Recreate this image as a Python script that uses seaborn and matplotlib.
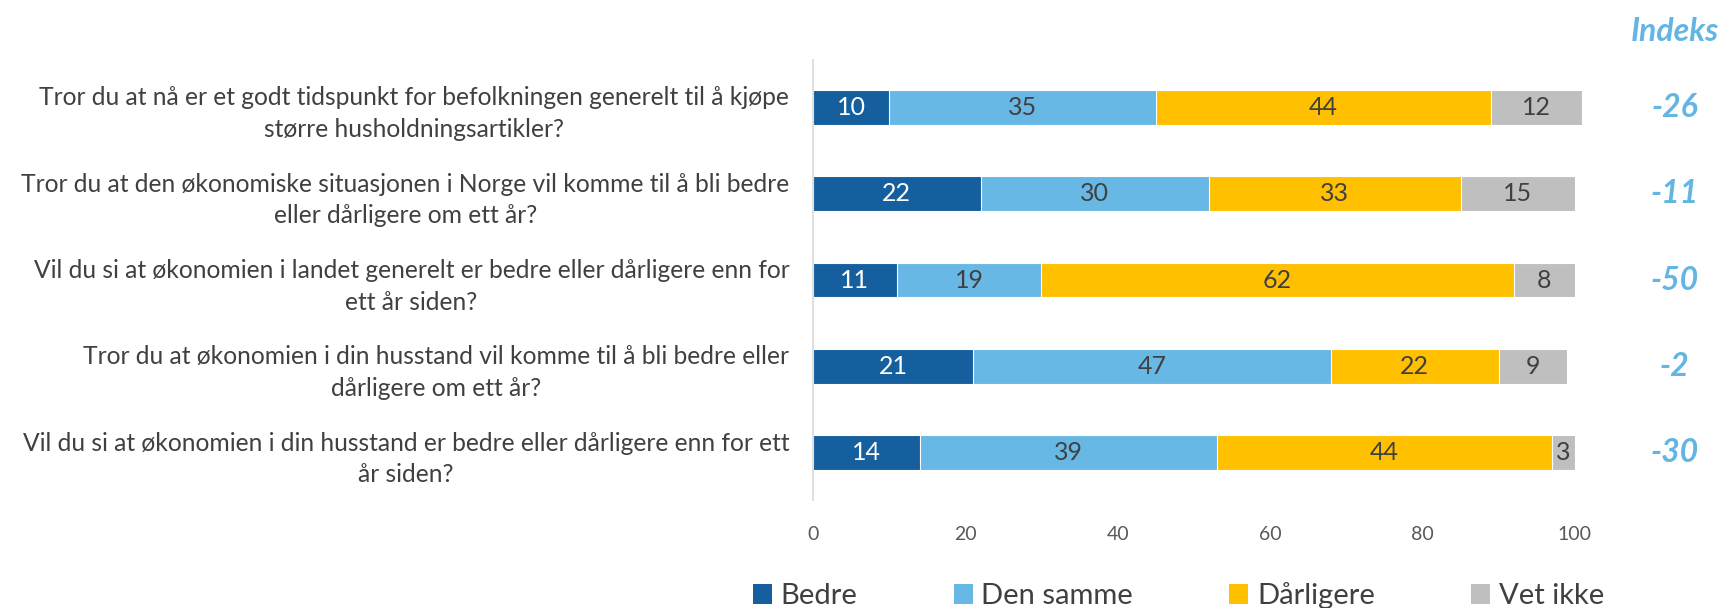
import matplotlib
matplotlib.use('Agg')
import matplotlib.pyplot as plt
import matplotlib.transforms as mtransforms
from matplotlib.patches import Patch
import numpy as np
import pandas as pd
import seaborn as sns

sns.set_style('white')
plt.rcParams['font.family'] = ['Lato', 'DejaVu Sans']

# questions, top to bottom
questions = [
    'Tror du at nå er et godt tidspunkt for befolkningen generelt til å kjøpe\nstørre husholdningsartikler?',
    'Tror du at den økonomiske situasjonen i Norge vil komme til å bli bedre\neller dårligere om ett år?',
    'Vil du si at økonomien i landet generelt er bedre eller dårligere enn for\nett år siden?',
    'Tror du at økonomien i din husstand vil komme til å bli bedre eller\ndårligere om ett år?',
    'Vil du si at økonomien i din husstand er bedre eller dårligere enn for ett\når siden?',
]
bedre = [10, 22, 11, 21, 14]
samme = [35, 30, 19, 47, 39]
darligere = [44, 33, 62, 22, 44]
vet_ikke = [12, 15, 8, 9, 3]
indeks = [-26, -11, -50, -2, -30]

series_names = ['Bedre', 'Den samme', 'Dårligere', 'Vet ikke']
colors = ['#155f9f', '#68b8e5', '#ffc000', '#bfbfbf']
text_colors = ['white', '#404040', '#404040', '#404040']
index_color = '#63b6e3'

df = pd.DataFrame({'question': questions, 'Bedre': bedre, 'Den samme': samme,
                   'Dårligere': darligere, 'Vet ikke': vet_ikke})
cum = df[series_names].cumsum(axis=1)

fig = plt.figure(figsize=(17.23, 6.08), dpi=100)
ax = fig.add_axes([0.4718, 0.1776, 0.4422, 0.7237])

# stacked bars: draw cumulative totals from the outside in
for name, col in reversed(list(zip(series_names, colors))):
    sns.barplot(x=cum[name], y=df['question'], color=col, orient='h', width=0.4,
                edgecolor='white', linewidth=0.8, ax=ax, saturation=1)

for p in ax.patches:
    p.set_clip_on(False)

# segment labels
for i in range(len(questions)):
    left = 0
    for name, tc in zip(series_names, text_colors):
        v = df.loc[i, name]
        ax.text(left + v / 2, i, str(v), ha='center', va='center',
                fontsize=18, color=tc)
        left += v

# index column
trans = mtransforms.blended_transform_factory(fig.transFigure, ax.transData)
for i, v in enumerate(indeks):
    ax.text(0.972, i, str(v), transform=trans, ha='center', va='center',
            fontsize=23, fontweight='bold', fontstyle='italic', color=index_color)
fig.text(0.972, 0.949, 'Indeks', ha='center', va='center', fontsize=23,
         fontweight='bold', fontstyle='italic', color=index_color)

ax.set_xlim(0, 100)
ax.set_ylim(4.55, -0.55)
ax.set_xticks([0, 20, 40, 60, 80, 100])
ax.set_xlabel('')
ax.set_ylabel('')
ax.tick_params(axis='x', length=0, pad=19, labelsize=14, labelcolor='#595959')
ax.tick_params(axis='y', length=0, pad=17, labelsize=17.7, labelcolor='#404040')
for lab in ax.get_yticklabels():
    lab.set_multialignment('center')
    lab.set_linespacing(1.45)

sns.despine(ax=ax, top=True, right=True, bottom=True, left=False)
ax.spines['left'].set_color('#d9d9d9')
ax.spines['left'].set_linewidth(1.2)

handles = [Patch(facecolor=c, edgecolor='none') for c in colors]
fig.legend(handles, series_names, loc='center', bbox_to_anchor=(0.684, 0.02),
           ncol=4, frameon=False, fontsize=21, handlelength=0.65, handleheight=0.65,
           handletextpad=0.3, columnspacing=3.3, labelcolor='#404040')

fig.savefig('out.png', dpi=100)
